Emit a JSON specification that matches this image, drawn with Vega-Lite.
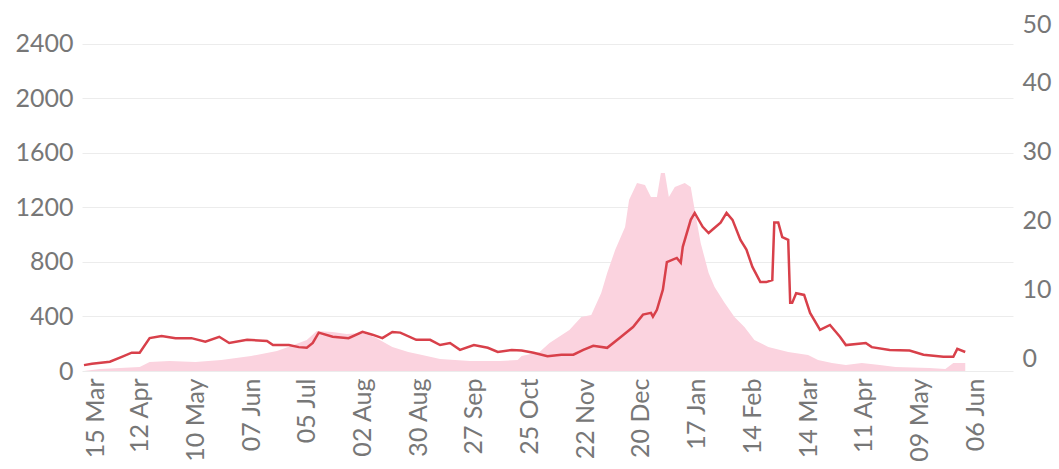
{
  "$schema": "https://vega.github.io/schema/vega-lite/v6.json",
  "width": 931,
  "height": 349,
  "autosize": {"type": "none"},
  "padding": {"left": 82, "top": 22, "right": 46, "bottom": 98},
  "background": "white",
  "config": {
    "view": {"stroke": null},
    "axis": {"labelFont": "Lato", "labelFontSize": 25, "labelColor": "#777777", "ticks": false, "domain": false, "title": null}
  },
  "datasets": {
    "admissions": [
      {"date": "2020-03-15", "admissions": 0},
      {"date": "2020-03-23", "admissions": 15},
      {"date": "2020-04-02", "admissions": 22},
      {"date": "2020-04-12", "admissions": 30},
      {"date": "2020-04-17", "admissions": 66},
      {"date": "2020-04-27", "admissions": 73},
      {"date": "2020-05-10", "admissions": 66},
      {"date": "2020-05-23", "admissions": 80},
      {"date": "2020-06-07", "admissions": 110},
      {"date": "2020-06-20", "admissions": 147},
      {"date": "2020-06-27", "admissions": 183},
      {"date": "2020-07-05", "admissions": 228},
      {"date": "2020-07-10", "admissions": 294},
      {"date": "2020-07-18", "admissions": 286},
      {"date": "2020-07-25", "admissions": 272},
      {"date": "2020-08-02", "admissions": 279},
      {"date": "2020-08-08", "admissions": 250},
      {"date": "2020-08-17", "admissions": 176},
      {"date": "2020-08-25", "admissions": 140},
      {"date": "2020-09-01", "admissions": 117},
      {"date": "2020-09-10", "admissions": 88},
      {"date": "2020-09-25", "admissions": 73},
      {"date": "2020-10-10", "admissions": 73},
      {"date": "2020-10-19", "admissions": 80},
      {"date": "2020-10-21", "admissions": 110},
      {"date": "2020-10-30", "admissions": 140},
      {"date": "2020-11-04", "admissions": 205},
      {"date": "2020-11-14", "admissions": 300},
      {"date": "2020-11-20", "admissions": 396},
      {"date": "2020-11-25", "admissions": 411},
      {"date": "2020-11-30", "admissions": 572},
      {"date": "2020-12-03", "admissions": 719},
      {"date": "2020-12-07", "admissions": 888},
      {"date": "2020-12-12", "admissions": 1057},
      {"date": "2020-12-14", "admissions": 1255},
      {"date": "2020-12-18", "admissions": 1380},
      {"date": "2020-12-22", "admissions": 1365},
      {"date": "2020-12-25", "admissions": 1277},
      {"date": "2020-12-28", "admissions": 1277},
      {"date": "2020-12-30", "admissions": 1453},
      {"date": "2021-01-01", "admissions": 1453},
      {"date": "2021-01-03", "admissions": 1277},
      {"date": "2021-01-06", "admissions": 1350},
      {"date": "2021-01-11", "admissions": 1380},
      {"date": "2021-01-14", "admissions": 1350},
      {"date": "2021-01-16", "admissions": 1182},
      {"date": "2021-01-19", "admissions": 940},
      {"date": "2021-01-23", "admissions": 719},
      {"date": "2021-01-26", "admissions": 617},
      {"date": "2021-01-31", "admissions": 500},
      {"date": "2021-02-05", "admissions": 396},
      {"date": "2021-02-10", "admissions": 323},
      {"date": "2021-02-15", "admissions": 228},
      {"date": "2021-02-22", "admissions": 176},
      {"date": "2021-03-04", "admissions": 140},
      {"date": "2021-03-14", "admissions": 117},
      {"date": "2021-03-19", "admissions": 80},
      {"date": "2021-03-26", "admissions": 59},
      {"date": "2021-04-02", "admissions": 44},
      {"date": "2021-04-10", "admissions": 59},
      {"date": "2021-04-19", "admissions": 44},
      {"date": "2021-04-27", "admissions": 29},
      {"date": "2021-05-14", "admissions": 22},
      {"date": "2021-05-22", "admissions": 15},
      {"date": "2021-05-26", "admissions": 59},
      {"date": "2021-06-01", "admissions": 59}
    ],
    "deaths": [
      {"date": "2020-03-15", "deaths": 0.4},
      {"date": "2020-03-19", "deaths": 0.6},
      {"date": "2020-03-28", "deaths": 0.9},
      {"date": "2020-04-03", "deaths": 1.6},
      {"date": "2020-04-08", "deaths": 2.2},
      {"date": "2020-04-12", "deaths": 2.2},
      {"date": "2020-04-17", "deaths": 4.3},
      {"date": "2020-04-23", "deaths": 4.6},
      {"date": "2020-04-30", "deaths": 4.3},
      {"date": "2020-05-08", "deaths": 4.3},
      {"date": "2020-05-15", "deaths": 3.8},
      {"date": "2020-05-22", "deaths": 4.5},
      {"date": "2020-05-27", "deaths": 3.6},
      {"date": "2020-06-05", "deaths": 4.05},
      {"date": "2020-06-15", "deaths": 3.9},
      {"date": "2020-06-18", "deaths": 3.3},
      {"date": "2020-06-26", "deaths": 3.3},
      {"date": "2020-07-01", "deaths": 3.0},
      {"date": "2020-07-05", "deaths": 2.9},
      {"date": "2020-07-08", "deaths": 3.6},
      {"date": "2020-07-11", "deaths": 5.1},
      {"date": "2020-07-18", "deaths": 4.5},
      {"date": "2020-07-26", "deaths": 4.3},
      {"date": "2020-08-02", "deaths": 5.2},
      {"date": "2020-08-07", "deaths": 4.8},
      {"date": "2020-08-12", "deaths": 4.3},
      {"date": "2020-08-17", "deaths": 5.2},
      {"date": "2020-08-21", "deaths": 5.1},
      {"date": "2020-08-29", "deaths": 4.05},
      {"date": "2020-09-05", "deaths": 4.05},
      {"date": "2020-09-10", "deaths": 3.3},
      {"date": "2020-09-15", "deaths": 3.6},
      {"date": "2020-09-20", "deaths": 2.6},
      {"date": "2020-09-27", "deaths": 3.3},
      {"date": "2020-10-04", "deaths": 2.9},
      {"date": "2020-10-09", "deaths": 2.3},
      {"date": "2020-10-16", "deaths": 2.6},
      {"date": "2020-10-21", "deaths": 2.5},
      {"date": "2020-10-27", "deaths": 2.2},
      {"date": "2020-11-03", "deaths": 1.7},
      {"date": "2020-11-10", "deaths": 1.9},
      {"date": "2020-11-16", "deaths": 1.9},
      {"date": "2020-11-21", "deaths": 2.6},
      {"date": "2020-11-26", "deaths": 3.2},
      {"date": "2020-12-03", "deaths": 2.9},
      {"date": "2020-12-10", "deaths": 4.5},
      {"date": "2020-12-16", "deaths": 5.9},
      {"date": "2020-12-21", "deaths": 7.7},
      {"date": "2020-12-25", "deaths": 7.95},
      {"date": "2020-12-26", "deaths": 7.4},
      {"date": "2020-12-28", "deaths": 8.4},
      {"date": "2020-12-31", "deaths": 11.3},
      {"date": "2021-01-02", "deaths": 15.3},
      {"date": "2021-01-07", "deaths": 15.9},
      {"date": "2021-01-09", "deaths": 15.2},
      {"date": "2021-01-10", "deaths": 17.5},
      {"date": "2021-01-14", "deaths": 21.4},
      {"date": "2021-01-16", "deaths": 22.4},
      {"date": "2021-01-20", "deaths": 20.4},
      {"date": "2021-01-23", "deaths": 19.5},
      {"date": "2021-01-25", "deaths": 20.0},
      {"date": "2021-01-29", "deaths": 21.0},
      {"date": "2021-02-01", "deaths": 22.4},
      {"date": "2021-02-04", "deaths": 21.4},
      {"date": "2021-02-08", "deaths": 18.5},
      {"date": "2021-02-11", "deaths": 17.1},
      {"date": "2021-02-14", "deaths": 14.6},
      {"date": "2021-02-18", "deaths": 12.4},
      {"date": "2021-02-21", "deaths": 12.4},
      {"date": "2021-02-24", "deaths": 12.7},
      {"date": "2021-02-25", "deaths": 21.0},
      {"date": "2021-02-27", "deaths": 21.0},
      {"date": "2021-03-01", "deaths": 18.9},
      {"date": "2021-03-04", "deaths": 18.5},
      {"date": "2021-03-05", "deaths": 9.4},
      {"date": "2021-03-06", "deaths": 9.4},
      {"date": "2021-03-08", "deaths": 10.8},
      {"date": "2021-03-12", "deaths": 10.55},
      {"date": "2021-03-15", "deaths": 7.95},
      {"date": "2021-03-20", "deaths": 5.5},
      {"date": "2021-03-25", "deaths": 6.2},
      {"date": "2021-03-30", "deaths": 4.5},
      {"date": "2021-04-02", "deaths": 3.3},
      {"date": "2021-04-12", "deaths": 3.6},
      {"date": "2021-04-15", "deaths": 3.0},
      {"date": "2021-04-24", "deaths": 2.6},
      {"date": "2021-05-04", "deaths": 2.5},
      {"date": "2021-05-11", "deaths": 1.9},
      {"date": "2021-05-21", "deaths": 1.6},
      {"date": "2021-05-26", "deaths": 1.6},
      {"date": "2021-05-28", "deaths": 2.75},
      {"date": "2021-06-01", "deaths": 2.3}
    ]
  },
  "encoding": {
    "x": {
      "field": "date",
      "type": "temporal",
      "scale": {
        "type": "utc",
        "domain": [
          {"year": 2020, "month": 3, "date": 14, "utc": true},
          {"year": 2021, "month": 6, "date": 25, "utc": true}
        ]
      },
      "axis": {
        "values": [
          {"year": 2020, "month": 3, "date": 15, "utc": true},
          {"year": 2020, "month": 4, "date": 12, "utc": true},
          {"year": 2020, "month": 5, "date": 10, "utc": true},
          {"year": 2020, "month": 6, "date": 7, "utc": true},
          {"year": 2020, "month": 7, "date": 5, "utc": true},
          {"year": 2020, "month": 8, "date": 2, "utc": true},
          {"year": 2020, "month": 8, "date": 30, "utc": true},
          {"year": 2020, "month": 9, "date": 27, "utc": true},
          {"year": 2020, "month": 10, "date": 25, "utc": true},
          {"year": 2020, "month": 11, "date": 22, "utc": true},
          {"year": 2020, "month": 12, "date": 20, "utc": true},
          {"year": 2021, "month": 1, "date": 17, "utc": true},
          {"year": 2021, "month": 2, "date": 14, "utc": true},
          {"year": 2021, "month": 3, "date": 14, "utc": true},
          {"year": 2021, "month": 4, "date": 11, "utc": true},
          {"year": 2021, "month": 5, "date": 9, "utc": true},
          {"year": 2021, "month": 6, "date": 6, "utc": true}
        ],
        "labelExpr": "utcFormat(datum.value, '%d %b')",
        "labelAngle": 270,
        "labelAlign": "right",
        "labelBaseline": "middle",
        "labelPadding": 7,
        "labelOffset": {"condition": {"test": "datum.value < 1585000000000", "value": 12}, "value": 0},
        "labelOverlap": false,
        "labelBound": false,
        "labelFlush": false,
        "grid": false
      }
    }
  },
  "layer": [
    {
      "data": {"name": "admissions"},
      "mark": {"type": "area", "color": "#fbd3df", "interpolate": "linear"},
      "encoding": {
        "y": {
          "field": "admissions",
          "type": "quantitative",
          "scale": {"domain": [0, 2561], "nice": false},
          "axis": {
            "orient": "left",
            "values": [0, 400, 800, 1200, 1600, 2000, 2400],
            "format": "d",
            "grid": true,
            "gridColor": "#ececec",
            "gridWidth": 1,
            "labelPadding": 9
          }
        }
      }
    },
    {
      "data": {"name": "deaths"},
      "mark": {"type": "line", "color": "#d8404a", "strokeWidth": 2.5, "interpolate": "linear"},
      "encoding": {
        "y": {
          "field": "deaths",
          "type": "quantitative",
          "scale": {"domain": [-0.45, 50], "nice": false, "zero": false},
          "axis": {
            "orient": "right",
            "values": [0, 10, 20, 30, 40, 50],
            "format": "d",
            "grid": false,
            "labelPadding": 9,
            "labelOffset": {"condition": {"test": "datum.value == 50", "value": 2}, "value": -9}
          }
        }
      }
    }
  ],
  "resolve": {"scale": {"y": "independent"}}
}
